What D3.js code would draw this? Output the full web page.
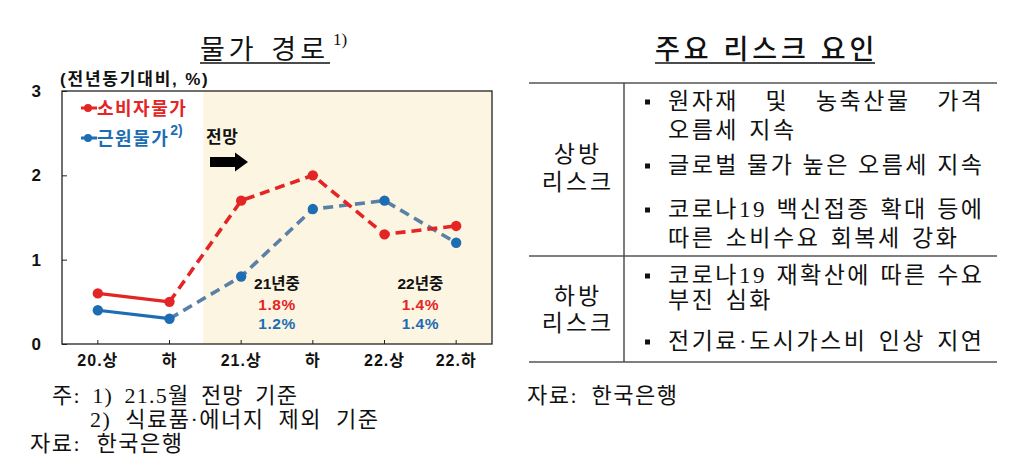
<!DOCTYPE html>
<html><head><meta charset="utf-8">
<script src="https://cdn.jsdelivr.net/npm/d3@7"></script>
<style>
html,body{margin:0;padding:0;background:#fff;}
svg{display:block;}
</style>
</head><body>
<svg id="chart" width="1024" height="470"></svg>
<script>
// ---------- DATA ----------
const categories = ["20.상", "하", "21.상", "하", "22.상", "22.하"];
const cpiValues  = [0.6, 0.5, 1.7, 2.0, 1.3, 1.4];
const coreValues = [0.4, 0.3, 0.8, 1.6, 1.7, 1.2];
const lastActualIndex = 1;           // points after this index are forecasts
const yTickValues = [0, 1, 2, 3];
const seriesNames = ["소비자물가", "근원물가"];
const yearLabels = ["21년중", "22년중"];
const yearCpi    = ["1.8%", "1.4%"];
const yearCore   = ["1.2%", "1.4%"];
const leftTitle = "물가 경로";
const unitLabel = "(전년동기대비, %)";
const forecastLabel = "전망";
const leftNotes = ["주: 1) 21.5월 전망 기준", "2) 식료품·에너지 제외 기준", "자료: 한국은행"];
const rightTitle = "주요 리스크 요인";
const upRiskLabel = ["상방", "리스크"];
const upRiskItems = [["원자재 및 농축산물 가격", "오름세 지속"], ["글로벌 물가 높은 오름세 지속"], ["코로나19 백신접종 확대 등에", "따른 소비수요 회복세 강화"]];
const downRiskLabel = ["하방", "리스크"];
const downRiskItems = [["코로나19 재확산에 따른 수요", "부진 심화"], ["전기료·도시가스비 인상 지연"]];
const rightSource = "자료: 한국은행";

// ---------- STYLE ----------
const SANS = "'Liberation Sans','Noto Sans CJK KR',sans-serif";
const SERIF = "'Liberation Serif','Noto Sans CJK KR',serif";
const RED = "#E42526", BLUE = "#1D6DB4", BLUE_D = "#5B80A5", SHADE = "#FCF5E2";

const svg = d3.select("#chart");
const plot = {l: 62, r: 492, t: 91, b: 344};

const x = d3.scaleBand().domain(d3.range(categories.length)).range([plot.l, plot.r]).padding(0);
const y = d3.scaleLinear().domain([0, 3]).range([plot.b, plot.t]);
const cx = i => x(i) + x.bandwidth() / 2;

// text whose word gaps are widened so that it spans a given width
function spreadText(sel, str, width, ls) {
  sel.attr("letter-spacing", ls).text(str);
  const nat = sel.node().getComputedTextLength() - ls;
  const n = (str.match(/ /g) || []).length;
  if (n > 0) sel.attr("word-spacing", Math.max(0, (width - nat) / n));
  return sel;
}

// shaded forecast region
const shadeX = (cx(lastActualIndex) + cx(lastActualIndex + 1)) / 2 - 2;
svg.append("rect").attr("x", shadeX).attr("y", plot.t).attr("width", plot.r - shadeX)
  .attr("height", plot.b - plot.t).attr("fill", SHADE);

// axes
const yAxis = d3.axisLeft(y).tickValues(yTickValues).tickSize(-5).tickSizeOuter(0).tickPadding(21).tickFormat(d3.format("d"));
const gy = svg.append("g").attr("transform", `translate(${plot.l},0)`).call(yAxis);
gy.select(".domain").remove();
gy.selectAll("text").attr("font-family", SANS).attr("font-weight", "bold").attr("font-size", 17).attr("fill", "#111");
gy.selectAll("line").attr("stroke", "#222");

const xAxis = d3.axisBottom(x).tickSize(-4).tickSizeOuter(0).tickPadding(11).tickFormat(i => categories[i]);
const gx = svg.append("g").attr("transform", `translate(0,${plot.b})`).call(xAxis);
gx.select(".domain").remove();
gx.selectAll("text").attr("font-family", SANS).attr("font-weight", "bold").attr("font-size", 16)
  .attr("letter-spacing", 1).attr("fill", "#111");
gx.selectAll("line").attr("stroke", "#222");

// frame
svg.append("rect").attr("x", plot.l).attr("y", plot.t).attr("width", plot.r - plot.l).attr("height", plot.b - plot.t)
  .attr("fill", "none").attr("stroke", "#222").attr("stroke-width", 1.3);

// lines
const line = d3.line().x(d => cx(d.i)).y(d => y(d.v));
function seriesPts(vals) { return vals.map((v, i) => ({i, v})); }
function drawSeries(vals, solidColor, dashColor) {
  const pts = seriesPts(vals);
  svg.append("path").attr("d", line(pts.slice(lastActualIndex)))
    .attr("fill", "none").attr("stroke", dashColor).attr("stroke-width", 3.6)
    .attr("stroke-dasharray", "10,6");
  svg.append("path").attr("d", line(pts.slice(0, lastActualIndex + 1)))
    .attr("fill", "none").attr("stroke", solidColor).attr("stroke-width", 3.2);
  return pts;
}
const corePts = drawSeries(coreValues, BLUE, BLUE_D);
const cpiPts = drawSeries(cpiValues, RED, RED);
svg.append("g").selectAll("circle").data(corePts).join("circle")
  .attr("cx", d => cx(d.i)).attr("cy", d => y(d.v)).attr("r", 5.2).attr("fill", BLUE);
svg.append("g").selectAll("circle").data(cpiPts).join("circle")
  .attr("cx", d => cx(d.i)).attr("cy", d => y(d.v)).attr("r", 5.2).attr("fill", RED);

// legend
const legend = [{name: seriesNames[0], color: RED, y: 108, sup: ""}, {name: seriesNames[1], color: BLUE, y: 138, sup: "2)"}];
legend.forEach(L => {
  svg.append("line").attr("x1", 81).attr("x2", 97).attr("y1", L.y).attr("y2", L.y).attr("stroke", L.color).attr("stroke-width", 3);
  svg.append("circle").attr("cx", 88).attr("cy", L.y).attr("r", 4).attr("fill", L.color);
  const t = svg.append("text").attr("x", 97).attr("y", L.y + 7).attr("font-family", SANS).attr("font-weight", "bold")
    .attr("font-size", 18).attr("letter-spacing", 1.5).attr("fill", L.color).text(L.name);
  if (L.sup) {
    const w = t.node().getBBox().width;
    svg.append("text").attr("x", 97 + w + 1).attr("y", L.y - 3).attr("font-family", SANS).attr("font-weight", "bold")
      .attr("font-size", 14).attr("fill", L.color).text(L.sup);
  }
});

// unit label
svg.append("text").attr("x", 60).attr("y", 85).attr("font-family", SANS).attr("font-weight", "bold")
  .attr("font-size", 17).attr("letter-spacing", 1.8).attr("fill", "#111").text(unitLabel);

// forecast label and arrow
svg.append("text").attr("x", 206).attr("y", 143).attr("font-family", SANS).attr("font-weight", "bold")
  .attr("font-size", 17).attr("letter-spacing", 0.5).attr("fill", "#111").text(forecastLabel);
svg.append("path").attr("d", "M210,157 L235,157 L235,152.5 L248,162 L235,171.5 L235,167 L210,167 Z").attr("fill", "#000");

// year annotations
yearLabels.forEach((lab, k) => {
  const xc = x(2 + 2 * k + 1);
  const g = svg.append("g").attr("font-family", SANS).attr("font-weight", "bold").attr("font-size", 15.5).attr("text-anchor", "middle");
  g.append("text").attr("x", xc).attr("y", 289).attr("fill", "#111").text(lab);
  g.append("text").attr("x", xc).attr("y", 310).attr("fill", RED).attr("letter-spacing", 0.5).text(yearCpi[k]);
  g.append("text").attr("x", xc).attr("y", 329).attr("fill", BLUE).attr("letter-spacing", 0.5).text(yearCore[k]);
});

// left title
spreadText(svg.append("text").attr("x", 200).attr("y", 59).attr("font-family", SERIF)
  .attr("font-size", 27).attr("fill", "#111"), leftTitle, 125, 4);
svg.append("line").attr("x1", 200).attr("x2", 330).attr("y1", 63).attr("y2", 63).attr("stroke", "#111").attr("stroke-width", 1.5);
svg.append("text").attr("x", 333).attr("y", 45).attr("font-family", SERIF).attr("font-size", 17).attr("fill", "#111").text("1)");

// left notes
const noteStyle = s => s.attr("font-family", SERIF).attr("font-size", 22).attr("fill", "#111");
spreadText(noteStyle(svg.append("text").attr("x", 52).attr("y", 403)), leftNotes[0], 245, 1.2);
spreadText(noteStyle(svg.append("text").attr("x", 90).attr("y", 427)), leftNotes[1], 288, 1.5);
spreadText(noteStyle(svg.append("text").attr("x", 30).attr("y", 451)), leftNotes[2], 152, 1.5);

// ---------- RIGHT TABLE ----------
const tb = {l: 529, r: 997, top: 83, mid: 256, bot: 362, div: 624, textX: 668, textR: 982};
spreadText(svg.append("text").attr("x", 655).attr("y", 59).attr("font-family", SERIF)
  .attr("font-size", 27).attr("font-weight", 500).attr("fill", "#111"), rightTitle, 216, 4);
svg.append("line").attr("x1", 655).attr("x2", 875).attr("y1", 63).attr("y2", 63).attr("stroke", "#111").attr("stroke-width", 1.5);

[tb.top, tb.mid, tb.bot].forEach(yy => svg.append("line").attr("x1", tb.l).attr("x2", tb.r).attr("y1", yy).attr("y2", yy)
  .attr("stroke", "#555").attr("stroke-width", 1.6));
svg.append("line").attr("x1", tb.div).attr("x2", tb.div).attr("y1", tb.top).attr("y2", tb.bot).attr("stroke", "#444").attr("stroke-width", 1.4);

const FS = 23, LS = 2.5;
function textLine(str, yb, justify) {
  const words = str.split(" ");
  const g = svg.append("g").attr("font-family", SERIF).attr("font-size", FS).attr("letter-spacing", LS).attr("fill", "#111");
  const nodes = words.map(w => g.append("text").attr("y", yb).text(w));
  const widths = nodes.map(n => n.node().getComputedTextLength());
  const total = d3.sum(widths);
  const gap = justify && words.length > 1 ? (tb.textR + LS - tb.textX - total) / (words.length - 1) : FS * 0.45;
  let xx = tb.textX;
  nodes.forEach((n, i) => { n.attr("x", xx); xx += widths[i] + gap; });
}
function bullet(yc) {
  svg.append("rect").attr("x", 645).attr("y", yc - 2.5).attr("width", 5).attr("height", 5).attr("fill", "#111");
}
function riskBlock(label, items, lineCenters, labelCenters) {
  let k = 0;
  items.forEach(lines => {
    lines.forEach((ln, j) => {
      const yc = lineCenters[k++];
      if (j === 0) bullet(yc + 1);
      textLine(ln, yc + 8, j < lines.length - 1 || lines.length === 1);
    });
  });
  label.forEach((lab, j) => svg.append("text").attr("x", 578).attr("y", labelCenters[j] + 8).attr("text-anchor", "middle")
    .attr("font-family", SERIF).attr("font-size", FS).attr("letter-spacing", 3).attr("fill", "#111").text(lab));
}
riskBlock(upRiskLabel, upRiskItems, [101, 130, 165, 209, 238], [154, 182]);
riskBlock(downRiskLabel, downRiskItems, [275, 300, 341], [296, 323]);

spreadText(svg.append("text").attr("x", 527).attr("y", 403).attr("font-family", SERIF).attr("font-size", 22).attr("fill", "#111"),
  rightSource, 150, 1.5);
</script>
</body></html>
